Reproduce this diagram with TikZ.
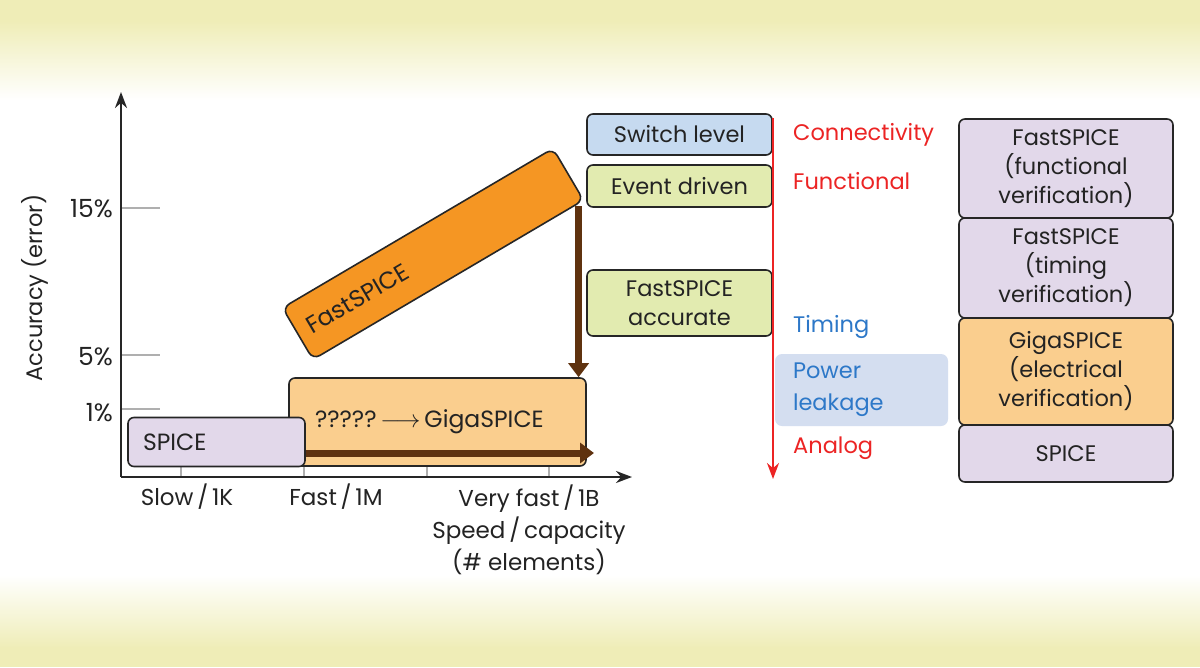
\documentclass[tikz,border=0pt]{standalone}
\usepackage{fontspec}
\setmainfont{Poppins}
\usetikzlibrary{arrows.meta}
\definecolor{bgy}{RGB}{239,237,183}
\definecolor{lav}{RGB}{226,216,234}
\definecolor{gigaor}{RGB}{250,206,142}
\definecolor{fastor}{RGB}{245,150,35}
\definecolor{swblue}{RGB}{198,218,240}
\definecolor{evgreen}{RGB}{226,235,176}
\definecolor{pwbg}{RGB}{212,222,240}
\definecolor{brn}{RGB}{95,50,15}
\definecolor{lblred}{RGB}{236,36,36}
\definecolor{lblblue}{RGB}{45,120,200}
\definecolor{txt}{RGB}{35,35,35}
\definecolor{tickgray}{RGB}{175,175,175}
\begin{document}
\begin{tikzpicture}[x=1pt,y=-1pt,
  font=\fontsize{22.5}{29}\selectfont, text=txt,
  box/.style={draw=black!85, line width=1.6pt, rounded corners=6pt, align=center, inner sep=0pt},
  brarrow/.style={draw=brn, line width=7pt, -{Triangle[width=20pt,length=14pt]}},
  axisline/.style={draw=black!85, line width=2.4pt, -{Stealth[length=16pt,width=12pt]}},
  tickline/.style={draw=tickgray, line width=1.3pt},
  lbl/.style={anchor=west, inner sep=0pt},
  ticklbl/.style={anchor=east, inner sep=0pt, font=\fontsize{25}{29}\selectfont},
  axlbl/.style={inner sep=0pt, align=center, font=\fontsize{23}{32}\selectfont}]
\useasboundingbox (0,0) rectangle (1200,667);
% background
\fill[white] (0,0) rectangle (1200,667);
\fill[bgy] (0,0) rectangle (1200,22);
\shade[top color=bgy, bottom color=white] (0,21) rectangle (1200,100);
\shade[top color=white, bottom color=bgy] (0,575) rectangle (1200,648);
\fill[bgy] (0,647) rectangle (1200,667);

% axes
\coordinate (origin) at (121,477);
\coordinate (ytip) at (121,92);
\coordinate (xtip) at (632,477);
% ticks
\foreach \y in {208,355,409} \draw[tickline] (121,\y) -- (160,\y);
\foreach \x in {181,304,427,549} \draw[tickline] (\x,477) -- (\x,464);

% GigaSPICE box
\node[box, fill=gigaor, minimum width=297pt, minimum height=88pt,
      text width=245pt, align=left] (giga) at (437.5,422) {\raisebox{-8pt}{\fontsize{23.5}{29}\selectfont ?????\,$\longrightarrow$\,GigaSPICE}};
% SPICE box
\node[box, fill=lav, minimum width=177pt, minimum height=49pt,
      text width=147pt, align=left] (spice) at (216.5,442) {\fontsize{23.5}{29}\selectfont SPICE};
% FastSPICE slanted box
\node[box, fill=fastor, rounded corners=8pt, minimum width=314pt, minimum height=60pt,
      text width=290pt, align=left, rotate=30.5] (fast) at (433,254) {\fontsize{24}{29}\selectfont FastSPICE};

% brown arrows
\coordinate (hs) at ([shift={(0,11)}]spice.east);
\coordinate (he) at (594,453);
\draw[brarrow] (hs) -- (he);
\draw[brarrow] ([shift={(-6,6)}]fast.south east) -- ([shift={(-6,0)}]fast.south east |- giga.north);

\draw[axisline] (origin) -- (ytip);
\draw[axisline] (origin) -- (xtip);

% tick labels
\node[ticklbl] (l15) at (113,209) {15\%};
\node[ticklbl] (l5) at (113,357) {5\%};
\node[ticklbl] (l1) at (113,413) {1\%};
\node[rotate=90, inner sep=0pt] (ylab) at (35,288) {Accuracy (error)};
\node[axlbl] (xl1) at (187,497) {Slow\,/\,1K};
\node[axlbl] (xl2) at (336,497) {Fast\,/\,1M};
\node[axlbl] (xl3) at (529,530) {Very fast\,/\,1B\\Speed\,/\,capacity\\(\# elements)};

% middle boxes
\node[box, fill=swblue, minimum width=185pt, minimum height=41pt] (sw) at (679.5,134.5) {Switch level};
\node[box, fill=evgreen, minimum width=185pt, minimum height=42pt] (ev) at (679.5,186) {Event driven};
\node[box, fill=evgreen, minimum width=185pt, minimum height=66pt] (fsa) at (679.5,303) {FastSPICE\\accurate};

% power leakage background
\node[fill=pwbg, rounded corners=7pt, minimum width=173pt, minimum height=72pt,
      text width=137pt, align=left, inner sep=0pt, text=lblblue,
      font=\fontsize{22.5}{32}\selectfont] (pw) at (861.5,390) {Power\\leakage};

% red arrow
\coordinate (rs) at (773,118);
\coordinate (re) at (773,479);
\draw[draw=lblred, line width=2pt, -{Stealth[length=16pt,width=12pt]}] (rs) -- (re);

\node[lbl, text=lblred] (conn) at (793,135) {Connectivity};
\node[lbl, text=lblred] (func) at (793,181) {Functional};
\node[lbl, text=lblblue] (tim) at (793,327) {Timing};
\node[lbl, text=lblred] (ana) at (793,448) {Analog};

% right stack
\node[box, fill=lav, minimum width=214pt, minimum height=99pt] (r1) at (1066,168.5) {FastSPICE\\(functional\\verification)};
\node[box, fill=lav, minimum width=214pt, minimum height=100pt] (r2) at (1066,268) {FastSPICE\\(timing\\verification)};
\node[box, fill=gigaor, minimum width=214pt, minimum height=107pt] (r3) at (1066,371.5) {GigaSPICE\\(electrical\\verification)};
\node[box, fill=lav, minimum width=214pt, minimum height=57pt] (r4) at (1066,453.5) {SPICE};
\end{tikzpicture}
\end{document}
